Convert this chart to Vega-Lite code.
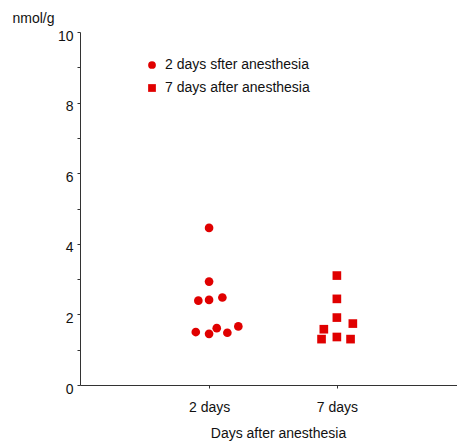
{
  "$schema": "https://vega.github.io/schema/vega-lite/v6.json",
  "autosize": "none",
  "width": 377,
  "height": 353,
  "padding": {"left": 80, "top": 32, "right": 0, "bottom": 56},
  "background": "white",
  "config": {
    "font": "Liberation Sans",
    "view": {"stroke": null},
    "axis": {"domainColor": "#333", "tickColor": "#333", "labelColor": "#111", "titleColor": "#111", "grid": false, "labelFontSize": 14, "titleFontSize": 14, "titleFontWeight": "normal", "labelFont": "Liberation Sans", "titleFont": "Liberation Sans"}
  },
  "data": {
    "values": [
      {"group": "2 days sfter anesthesia", "x": 1.0, "y": 4.45},
      {"group": "2 days sfter anesthesia", "x": 1.0, "y": 2.93},
      {"group": "2 days sfter anesthesia", "x": 0.916, "y": 2.39},
      {"group": "2 days sfter anesthesia", "x": 1.0, "y": 2.41},
      {"group": "2 days sfter anesthesia", "x": 1.104, "y": 2.48},
      {"group": "2 days sfter anesthesia", "x": 0.896, "y": 1.5},
      {"group": "2 days sfter anesthesia", "x": 1.0, "y": 1.45},
      {"group": "2 days sfter anesthesia", "x": 1.06, "y": 1.61},
      {"group": "2 days sfter anesthesia", "x": 1.143, "y": 1.48},
      {"group": "2 days sfter anesthesia", "x": 1.229, "y": 1.66},
      {"group": "7 days after anesthesia", "x": 2.0, "y": 3.1},
      {"group": "7 days after anesthesia", "x": 2.0, "y": 2.44},
      {"group": "7 days after anesthesia", "x": 2.0, "y": 1.91},
      {"group": "7 days after anesthesia", "x": 2.125, "y": 1.74},
      {"group": "7 days after anesthesia", "x": 1.898, "y": 1.58},
      {"group": "7 days after anesthesia", "x": 1.88, "y": 1.3},
      {"group": "7 days after anesthesia", "x": 2.0, "y": 1.36},
      {"group": "7 days after anesthesia", "x": 2.107, "y": 1.3}
    ]
  },
  "mark": {"type": "point", "filled": true, "opacity": 1, "color": "#e00000", "size": 75},
  "encoding": {
    "x": {
      "field": "x", "type": "quantitative",
      "scale": {"domain": [-0.01, 2.94], "nice": false, "zero": false},
      "axis": {
        "values": [1, 2],
        "labelExpr": "datum.value == 1 ? '2 days' : '7 days'",
        "tickSize": 3, "labelPadding": 12,
        "title": "Days after anesthesia", "titleX": 198, "titlePadding": 12
      }
    },
    "y": {
      "field": "y", "type": "quantitative",
      "scale": {"domain": [0, 10], "nice": false},
      "axis": {
        "values": [0, 1, 2, 3, 4, 5, 6, 7, 8, 9, 10],
        "labelExpr": "datum.value % 2 == 0 ? datum.label : ''",
        "tickSize": 3, "labelPadding": 4, "labelOffset": 4,
        "title": "nmol/g", "titleAngle": 0, "titleAlign": "left", "titleBaseline": "middle",
        "titleX": -68, "titleY": -14
      }
    },
    "shape": {
      "field": "group", "type": "nominal",
      "scale": {"domain": ["2 days sfter anesthesia", "7 days after anesthesia"], "range": ["circle", "square"]},
      "legend": {
        "title": null, "orient": "none", "legendX": 65, "legendY": 26,
        "symbolFillColor": "#e00000", "symbolStrokeColor": "#e00000", "symbolStrokeWidth": 0,
        "symbolSize": 60, "labelFontSize": 14, "labelFont": "Liberation Sans", "labelColor": "#111",
        "rowPadding": 9, "labelOffset": 6
      }
    }
  }
}
